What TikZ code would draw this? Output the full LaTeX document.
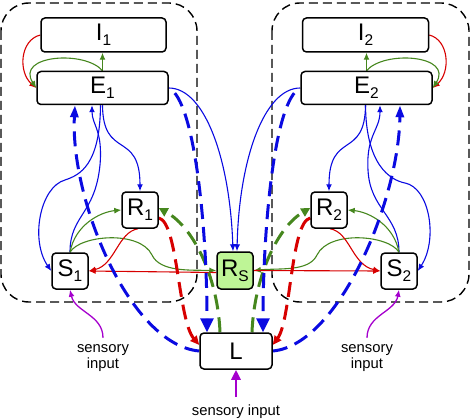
\documentclass[tikz,border=0pt]{standalone}
\usepackage{fontspec}
\setmainfont{Liberation Sans}
\usetikzlibrary{arrows.meta,backgrounds}
\definecolor{cb}{RGB}{10,10,225}
\definecolor{cr}{RGB}{215,0,0}
\definecolor{cg}{RGB}{70,135,30}
\definecolor{cp}{RGB}{165,0,205}
\definecolor{cfill}{RGB}{190,245,150}
\newcommand{\lbl}[2]{#1\raisebox{-5pt}{\fontsize{15.5}{15.5}\selectfont #2}}
\begin{document}
\begin{tikzpicture}[x=1pt,y=-1pt,
 box/.style={draw,line width=1.5pt,rounded corners=4pt,fill=white,inner sep=0pt,font=\fontsize{24}{24}\selectfont},
 grp/.style={draw,line width=1.4pt,dash pattern=on 9pt off 5pt,rounded corners=28pt},
 tarr/.style={line width=1.1pt,-{Latex[length=7pt,width=6pt]}},
 dsh/.style={line width=3pt,dash pattern=on 15pt off 8pt},
 txt/.style={font=\fontsize{14.8}{16}\selectfont,align=center,inner xsep=1pt,inner ysep=7pt}]
\useasboundingbox (0,0) rectangle (472,420);
% nodes
\node[box,minimum width=125pt,minimum height=34pt] (I1) at (103.5,35) {\lbl{I}{1}};
\node[box,minimum width=131pt,minimum height=33pt] (E1) at (102.5,88) {\lbl{E}{1}};
\node[box,minimum width=126pt,minimum height=34pt] (I2) at (365.5,35) {\lbl{I}{2}};
\node[box,minimum width=131pt,minimum height=33pt] (E2) at (366.5,88) {\lbl{E}{2}};
\node[box,minimum width=36pt,minimum height=36pt] (R1) at (140,210) {\lbl{R}{1}};
\node[box,minimum width=36pt,minimum height=36pt] (S1) at (70,271) {\lbl{S}{1}};
\node[box,minimum width=36pt,minimum height=36pt] (R2) at (329,210) {\lbl{R}{2}};
\node[box,minimum width=36pt,minimum height=36pt] (S2) at (399,271) {\lbl{S}{2}};
\node[box,fill=cfill,minimum width=36pt,minimum height=37pt] (Rs) at (235,270.5) {\lbl{R}{S}};
\node[box,minimum width=72pt,minimum height=36pt] (L) at (236,351) {L};
\node[txt] (ls) at (103,358.5) {sensory\\input};
\node[txt] (rs) at (367,358.5) {sensory\\input};
\node[txt,anchor=base] (bs) at (236,415) {sensory input};
\begin{pgfonlayer}{background}
\draw[grp] (1,3) rectangle (197,302);
\draw[grp] (272,3) rectangle (469,302);
% I-E loops
\draw[tarr,cr] (I1.west) .. controls (20,40) and (18,72) .. (E1.west);
\draw[tarr,cg] (E1.north) -- (E1.north |- I1.south);
\draw[tarr,cg] (E1.north) .. controls (85,50) and (15,55) .. (E1.west);
\draw[tarr,cr] (I2.east) .. controls (449,40) and (451,72) .. (E2.east);
\draw[tarr,cg] (E2.north) -- (E2.north |- I2.south);
\draw[tarr,cg] (E2.north) .. controls (384,50) and (454,55) .. (E2.east);
% E to Rs
\draw[tarr,cb] (E1.east) .. controls (205,88) and (230,160) .. ([xshift=-2pt]Rs.north);
\draw[tarr,cb] (E2.west) .. controls (264,88) and (239,160) .. ([xshift=2pt]Rs.north);
% E-R, E-S, S-E left
\draw[tarr,cb] (E1.south) .. controls (103,160) and (140,130) .. (R1.north);
\draw[tarr,cb] ([xshift=-2pt]E1.south) .. controls (100,165) and (80,175) .. (65,180) .. controls (40,187) and (30,240) .. (S1.west);
\draw[tarr,cb] (S1.north) .. controls (70,215) and (95,215) .. (100,165) .. controls (103,130) and (92,125) .. ([xshift=-10.5pt]E1.south);
% right
\draw[tarr,cb] ([xshift=-1pt]E2.south) .. controls (365,160) and (329,130) .. (R2.north);
\draw[tarr,cb] ([xshift=-1pt]E2.south) .. controls (366,165) and (390,180) .. (405,183) .. controls (430,188) and (438,240) .. (S2.east);
\draw[tarr,cb] (S2.north) .. controls (399,215) and (370,210) .. (368,170) .. controls (366,135) and (380,130) .. ([xshift=13.5pt]E2.south);
% S to R and Rs (green)
\draw[tarr,cg] (S1.north) .. controls (75,225) and (100,212) .. (R1.west);
\draw[tarr,cg] (S1.north) .. controls (80,235) and (140,230) .. (152,255) .. controls (160,272) and (190,270) .. (Rs.west);
\draw[tarr,cg] (S2.north) .. controls (394,225) and (369,212) .. (R2.east);
\draw[tarr,cg] (S2.north) .. controls (389,235) and (329,230) .. (317,255) .. controls (309,272) and (279,268) .. (Rs.east);
% red to S
\draw[tarr,cr] ([xshift=-2pt]R1.south) .. controls (118,232) and (115,265) .. (S1.east);
\draw[tarr,cr] ([yshift=-2pt]Rs.west) -- (S1.east);
\draw[tarr,cr] ([xshift=1pt]R2.south) .. controls (350,232) and (352,265) .. (S2.west);
\draw[tarr,cr] (Rs.east) -- (S2.west);
% purple sensory inputs
\draw[cp,line width=1.3pt,-{Latex[length=7pt,width=6pt]}] (ls.north) .. controls (103,315) and (75,312) .. (S1.south);
\draw[cp,line width=1.3pt,-{Latex[length=7pt,width=6pt]}] (rs.north) .. controls (367,315) and (395,312) .. (S2.south);
\draw[cp,line width=2.5pt,-{Triangle[length=10pt,width=9pt]}] (bs.north) -- (L.south);
% thick dashed
\draw[dsh,cr,-{Triangle[length=9pt,width=8pt]}] ([yshift=-8pt]R1.east) .. controls (178,222) and (178,320) .. ([yshift=6pt]L.west);
\draw[dsh,cr,-{Triangle[length=9pt,width=8pt]}] ([yshift=-8pt]R2.west) .. controls (291,222) and (291,320) .. ([yshift=6pt]L.east);
\draw[dsh,cg,-{Triangle[length=9pt,width=9pt]}] ([xshift=-16pt]L.north) .. controls (218,280) and (195,228) .. ([yshift=2pt]R1.east);
\draw[dsh,cg,-{Triangle[length=9pt,width=9pt]}] ([xshift=16pt]L.north) .. controls (254,280) and (276,228) .. ([yshift=2pt]R2.west);
\draw[dsh,cb,dash phase=15pt,-{Triangle[length=14pt,width=13pt]}] (E1.east) .. controls (195,100) and (207,230) .. ([xshift=-29pt]L.north);
\draw[dsh,cb,dash phase=15pt,-{Triangle[length=14pt,width=13pt]}] (E2.west) .. controls (274,100) and (263,230) .. ([xshift=27pt]L.north);
\draw[dsh,cb,-{Triangle[length=12pt,width=8pt]}] (L.west) .. controls (130,345) and (70,200) .. ([xshift=-27.5pt]E1.south);
\draw[dsh,cb,-{Triangle[length=12pt,width=8pt]}] (L.east) .. controls (339,345) and (399,200) .. ([xshift=33.5pt]E2.south);
\end{pgfonlayer}
\end{tikzpicture}
\end{document}
